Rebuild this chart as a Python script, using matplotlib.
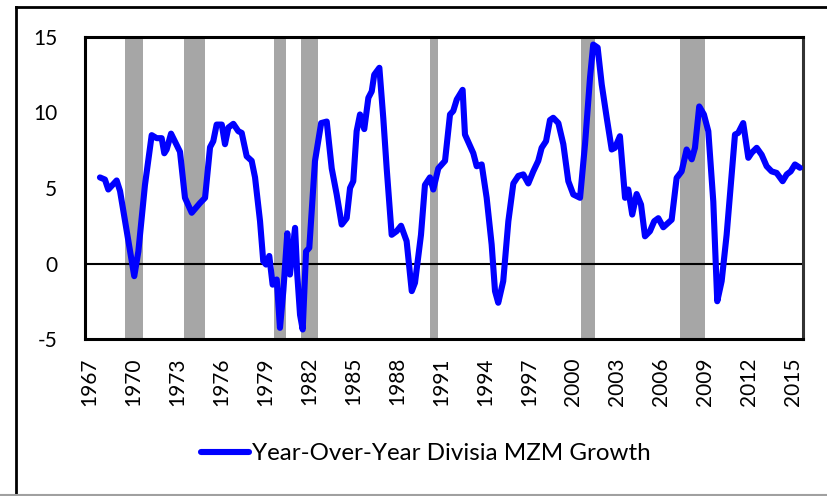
import matplotlib
matplotlib.use("Agg")
import matplotlib.pyplot as plt
from matplotlib.lines import Line2D

plt.rcParams['font.family'] = ['Lato', 'DejaVu Sans']

# Decimal-year positions and YoY Divisia MZM growth (%)
years = [1968.21, 1968.55, 1968.78, 1969.35, 1969.58, 1970.55, 1970.83, 1971.28, 1971.74, 1972.08,
         1972.42, 1972.60, 1972.76, 1973.06, 1973.67, 1974.01, 1974.47, 1975.03, 1975.38, 1975.72,
         1975.94, 1976.17, 1976.52, 1976.74, 1976.97, 1977.31, 1977.65, 1977.88, 1978.22, 1978.56,
         1978.79, 1979.13, 1979.35, 1979.54, 1979.76, 1979.99, 1980.27, 1980.49, 1980.72, 1980.99,
         1981.17, 1981.52, 1981.67, 1981.86, 1982.04, 1982.27, 1982.49, 1982.88, 1983.30, 1983.68,
         1984.02, 1984.36, 1984.70, 1985.04, 1985.27, 1985.49, 1985.72, 1985.95, 1986.24, 1986.52,
         1986.75, 1986.92, 1987.27, 1987.54, 1987.77, 1988.11, 1988.45, 1988.75, 1989.13, 1989.48,
         1989.70, 1990.11, 1990.38, 1990.72, 1990.95, 1991.29, 1991.75, 1992.09, 1992.31, 1992.55,
         1992.95, 1993.11, 1993.40, 1993.68, 1993.91, 1994.25, 1994.59, 1994.93, 1995.16, 1995.38,
         1995.72, 1996.07, 1996.41, 1996.75, 1997.09, 1997.43, 1997.77, 1998.11, 1998.34, 1998.64,
         1998.91, 1999.13, 1999.48, 1999.82, 2000.16, 2000.50, 2000.96, 2001.30, 2001.64, 2001.86,
         2002.16, 2002.44, 2002.78, 2003.12, 2003.34, 2003.68, 2004.03, 2004.25, 2004.52, 2004.82,
         2005.12, 2005.39, 2005.73, 2006.02, 2006.30, 2006.64, 2007.21, 2007.55, 2007.89, 2008.23,
         2008.58, 2008.80, 2009.09, 2009.41, 2009.71, 2010.05, 2010.32, 2010.62, 2010.96, 2011.53,
         2011.75, 2012.09, 2012.44, 2012.67, 2013.01, 2013.35, 2013.69, 2014.03, 2014.37, 2014.78,
         2015.06, 2015.33, 2015.62, 2015.96]
growth = [5.7, 5.56, 4.9, 5.5, 4.8, -0.84, 0.8, 5.2, 8.5, 8.3,
          8.3, 7.3, 7.55, 8.6, 7.4, 4.35, 3.36, 4.0, 4.35, 7.7,
          8.1, 9.2, 9.2, 7.9, 9.0, 9.25, 8.76, 8.65, 7.1, 6.8,
          5.7, 2.8, 0.15, -0.07, 0.5, -1.4, -1.06, -4.26, -1.8, 2.0,
          -0.73, 2.36, -0.73, -3.4, -4.37, 0.8, 1.04, 6.8, 9.3, 9.4,
          6.3, 4.57, 2.58, 3.0, 5.0, 5.45, 8.76, 9.87, 8.9, 10.97,
          11.4, 12.5, 12.96, 9.6, 6.3, 1.9, 2.14, 2.5, 1.48, -1.83,
          -1.28, 1.9, 5.2, 5.7, 4.9, 6.3, 6.8, 9.87, 10.1, 10.86,
          11.5, 8.54, 7.9, 7.3, 6.44, 6.56, 4.35, 1.26, -1.83, -2.6,
          -1.17, 2.8, 5.3, 5.8, 5.9, 5.3, 6.1, 6.8, 7.66, 8.1,
          9.5, 9.65, 9.3, 7.9, 5.45, 4.57, 4.35, 7.9, 12.3, 14.5,
          14.3, 11.85, 9.65, 7.55, 7.66, 8.43, 4.35, 4.9, 3.24, 4.6,
          3.9, 1.8, 2.14, 2.8, 3.0, 2.4, 2.9, 5.67, 6.1, 7.55,
          6.9, 7.66, 10.4, 9.87, 8.76, 4.1, -2.5, -1.17, 1.9, 8.54,
          8.65, 9.3, 7.0, 7.33, 7.66, 7.2, 6.44, 6.1, 6.0, 5.45,
          5.9, 6.1, 6.56, 6.34]

# Recession shading (start, end) in decimal years
rec_start = [1969.92, 1973.94, 1980.08, 1981.90, 1990.72, 2001.02, 2007.78]
rec_end = [1971.17, 1975.38, 1980.90, 1983.10, 1991.29, 2001.98, 2009.48]

tick_years = list(range(1967, 2016, 3))
y_ticks = [-5, 0, 5, 10, 15]
series_label = "Year-Over-Year Divisia MZM Growth"

fig = plt.figure(figsize=(8.28, 4.96), dpi=100)
ax = fig.add_axes([85/828, 1-339/496, (803.3-85)/828, (339-37)/496])

for s, e in zip(rec_start, rec_end):
    ax.axvspan(s, e, color='#a6a6a6', lw=0, zorder=1)

ax.axhline(0, color='black', lw=1.5, zorder=2)
ax.plot(years, growth, color='#0000ff', lw=4.4, solid_joinstyle='round',
        solid_capstyle='round', zorder=3)

ax.set_xlim(1967.19, 2016.19)
ax.set_ylim(-5, 15)
ax.set_yticks(y_ticks)
ax.set_yticklabels([str(v) for v in y_ticks])
ax.set_xticks([y + 0.5 for y in tick_years])
ax.set_xticklabels([str(y) for y in tick_years], rotation=90)
ax.tick_params(axis='y', length=0, pad=20, labelsize=15)
ax.tick_params(axis='x', length=0, pad=13, labelsize=15)
for sp in ax.spines.values():
    sp.set_linewidth(2.2)
    sp.set_color('black')
ax.spines['right'].set_color('#333333')

handle = Line2D([0], [0], color='#0000ff', lw=4.4, solid_capstyle='round')
fig.legend([handle], [series_label], loc='center', bbox_to_anchor=(426/828, 1-454/496),
           frameon=False, fontsize=17.4, handlelength=2.0, handletextpad=0.12)

# outer chart frame
fig.add_artist(Line2D([16/828, 16/828], [0, 1-7/496], color='black', lw=2, transform=fig.transFigure))
fig.add_artist(Line2D([16/828, 1], [1-7/496, 1-7/496], color='black', lw=2, transform=fig.transFigure))
fig.add_artist(Line2D([0, 1], [1.5/496, 1.5/496], color='#a0a0a0', lw=1.5, transform=fig.transFigure))

fig.savefig("out.png", dpi=100)
